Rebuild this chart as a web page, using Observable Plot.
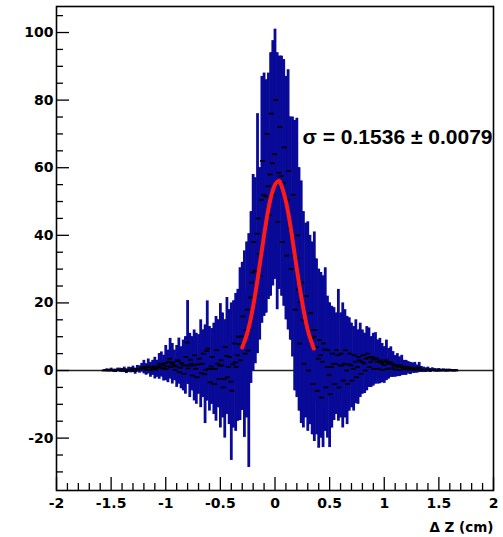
<!DOCTYPE html>
<html><head><meta charset="utf-8">
<script src="https://cdn.jsdelivr.net/npm/d3@7"></script>
<script src="https://cdn.jsdelivr.net/npm/@observablehq/plot@0.6"></script>
<style>html,body{margin:0;padding:0;background:#fff}svg{display:block}</style>
</head><body><div id="chart"></div>
<script>
// ---- histogram data, main entries (bin width 0.02, first centre -1.56) ----
const xFirst = -1.56;
const binWidth = 0.02;
const values = [
  0, 0.1, 0, 0.2, 0, -0.1, 0.2, 0.1, 0, 0.3, -0.2, 0.2, 0.1, 0.4, -0.2, 0.5, 0.3, 0.8,
  1, 0.3, 1.2, 0.2, 0.8, 0.7, 0.5, 1.2, 1.8, 0.7, 2.2, 1.2, 3.5, 2, 1.5, 1.2, 2.8, 0.8, 1.5, 1.5,
  8.3, 1.5, 2, 1.5, 0.5, 1.8, 2, 2, -1.1, 5.8, 0.5, 1.2, 0.5, 0.5, 2, 1.4, 1.5, -2.5, 4.3, 1,
  -3.3, 1.8, 2.4, 4.5, 7.8, 10.1, 7.8, 12, 5.9, 21.6, 29, 29.5, 40.5, 34.5, 50.5, 52, 51.5, 54.5, 58, 61.3,
  64, 56, 58.5, 57.5, 55.5, 51, 50.5, 42, 39.5, 34, 33.3, 24, 20.2, 15, 14.8, 13, 12, 9.5, 10, 7,
  3.5, 4.5, 2.6, 6.2, 1, -1.4, 1, 1.9, 2, 4.5, 1.5, 1.5, 2, 0, 1.8, 1.5, 0.5, 2.6, 1, 3,
  2.5, 2.1, 3.5, 3.8, 2.5, 3.2, 3.6, 2.5, 2.8, 2.2, 1.6, 3, 2, 2.5, 1.8, 1.2, 1.6, 1.1, 1.5, 0.8,
  0.8, 0.8, 0.6, 0.7, 0.8, 0.4, 0.9, 0.3, 0.2, 0.1, 0.3, 0, 0.2, 0.1, 0, 0.1, 0, 0.1, 0, 0, 0.1, 0, 0, 0
];
const errors = [
  0.3, 0.4, 0.4, 0.5, 0.4, 0.5, 0.5, 0.6, 0.6, 0.7, 0.7, 0.8, 0.8, 0.9, 0.9, 1.0, 1.1, 1.3,
  2, 1.7, 2.2, 2.2, 2.2, 3.2, 2.5, 3.8, 3.7, 3.8, 5.2, 4.8, 6, 6, 4.5, 6.2, 6.8, 6.2, 7.5, 8.5,
  12.4, 9.5, 8, 10.5, 10.5, 8.8, 13, 10, 14.6, 14.8, 12.5, 11.2, 13.5, 15.5, 13, 18.4, 15.5, 17.5, 17.3, 17,
  23.3, 18.8, 20.4, 19.5, 22.6, 21.9, 27.6, 26, 34.6, 25.4, 29, 27.5, 35.5, 25.5, 36.5, 36, 34.5, 33.5, 36, 36.3,
  37, 38, 34.5, 35.5, 36.5, 36, 38.5, 33, 35.5, 40, 41.3, 36, 35.9, 32, 28.8, 31, 28, 28.5, 31, 26,
  26.5, 24.5, 25.4, 24.2, 21, 21.4, 18, 16.7, 15, 19.5, 15.5, 18.5, 16, 16, 13.8, 12.5, 12.5, 12.4, 11, 11,
  9.5, 8.9, 9.5, 8.8, 7.5, 7.8, 7.6, 6.5, 6.7, 5.8, 5.4, 6, 4.5, 4.5, 3.8, 3.2, 3.4, 2.9, 3, 2.2,
  2.2, 1.8, 1.8, 1.5, 1.6, 1.2, 1.5, 0.9, 0.8, 0.7, 0.7, 0.6, 0.6, 0.5, 0.5, 0.5, 0.4, 0.4, 0.4, 0.4, 0.3, 0.3, 0.3, 0.3
];

// ---- second set of entries, half a bin over (first centre -1.19) ----
const xFirst2 = -1.19;
const values2 = [
  0.6, 0.2, 1.0, 0.1, 1.2, 0.3, 1.1, 2.0, 0.6, 1.5,
  0.4, 2.6, 1.0, 2.4, 0.2, 3.0, -0.5, 2.2, -1.0, 4.0,
  0.6, 3.2, -1.5, 4.5, -2.0, 3.5, -0.8, 5.0, 0.2, 6.5,
  -3.5, 4.0, -4.0, 6.0, -2.5, 3.0, -5.0, 7.0, -2.0, 4.0,
  -6.0, 8.0, 1.0, 10.0, 3.0, 16.0, 5.0, 18.0, 12.0, 26.0,
  38.0, 22.0, 45.0, 28.0, 62.0, 40.0, 70.0, 46.0, 76.0, 52.0,
  80.0, 44.0, 72.0, 38.0, 66.0, 34.0, 59.0, 30.0, 52.0, 18.0,
  40.0, 8.0, 26.0, 2.0, 22.0, 0.0, 17.0, -4.0, 12.0, -6.0,
  9.0, -8.0, 8.0, -5.0, 6.0, -7.0, 5.0, -4.0, 6.0, -5.0,
  5.0, -3.0, 6.0, -4.0, 5.0, -3.0, 4.5, -2.0, 4.0, -1.0,
  4.5, 0.0, 5.0, 1.0, 4.0, 0.5, 3.5, 0.5, 3.0, 0.2,
  2.5, 0.5, 2.5, 0.6, 1.8, 0.3, 1.4, 0.2, 1.2, 0.4,
  1.0, 0.3, 0.9, 0.2, 0.6, 0.3
];
const errors2 = [
  1.4, 1.2, 1.4, 1.5, 1.8, 2.3, 1.9, 3.0, 2.5, 3.0,
  3.4, 3.4, 3.5, 3.6, 3.2, 4.4, 3.5, 4.8, 5.0, 6.0,
  4.7, 6.8, 4.5, 6.5, 5.0, 7.0, 7.2, 7.0, 9.2, 6.5,
  6.5, 8.4, 9.0, 9.0, 8.5, 14.0, 9.0, 8.0, 11.0, 14.0,
  11.0, 12.6, 16.0, 14.0, 14.8, 16.0, 19.0, 20.0, 15.8, 21.0,
  19.0, 17.0, 15.0, 14.0, 24.0, 23.0, 16.0, 24.0, 18.0, 25.0,
  14.0, 20.0, 21.0, 16.0, 21.0, 19.0, 16.0, 21.0, 22.0, 24.0,
  20.0, 20.0, 21.0, 16.0, 21.0, 16.0, 21.0, 15.0, 21.0, 13.0,
  20.0, 12.0, 20.0, 13.0, 14.0, 10.0, 13.0, 9.0, 11.0, 9.0,
  12.0, 11.0, 10.0, 8.0, 9.0, 8.0, 8.5, 7.8, 8.0, 6.0,
  6.5, 6.0, 7.0, 6.0, 6.0, 4.5, 5.5, 4.4, 5.0, 3.8,
  4.5, 3.0, 4.0, 2.6, 2.6, 2.1, 2.6, 1.7, 1.8, 1.8,
  1.6, 1.3, 1.3, 1.0, 1.0, 0.9
];

// ---- gaussian fit curve ----
const fitX = [-0.30, -0.25, -0.20, -0.15, -0.10, -0.05, 0.0, 0.03, 0.05, 0.10, 0.15, 0.20, 0.25, 0.30, 0.355];
const fitY = [6.8, 11.5, 19, 29, 40, 49.5, 55, 56, 55.5, 50, 41, 30, 20, 12, 6.5];
const fitLabel = "\u03c3 = 0.1536 \u00b1 0.0079";

// ---- axes ----
const xTitle = "\u0394 Z (cm)";
const xMajor = [-2, -1.5, -1, -0.5, 0, 0.5, 1, 1.5, 2];
const xMinor = [-1.9, -1.8, -1.7, -1.6, -1.4, -1.3, -1.2, -1.1, -0.9, -0.8, -0.7, -0.6, -0.4, -0.3, -0.2, -0.1,
                0.1, 0.2, 0.3, 0.4, 0.6, 0.7, 0.8, 0.9, 1.1, 1.2, 1.3, 1.4, 1.6, 1.7, 1.8, 1.9];
const yMajor = [-20, 0, 20, 40, 60, 80, 100];
const yMinor = [-30, -25, -15, -10, -5, 5, 10, 15, 25, 30, 35, 45, 50, 55, 65, 70, 75, 85, 90, 95, 105];
const xDomain = [-2, 2];
const yDomain = [-35.5, 107.7];

const W = 503, H = 537;
const M = {top: 6, right: 10, bottom: 47, left: 56};
const pxPerX = (W - M.left - M.right) / (xDomain[1] - xDomain[0]);
const pxPerY = (H - M.top - M.bottom) / (yDomain[1] - yDomain[0]);

const rows = values.map((v, i) => ({x: xFirst + i * binWidth, v, e: errors[i]}))
  .concat(values2.map((v, i) => ({x: xFirst2 + i * binWidth, v, e: errors2[i]})));
const fit = fitX.map((x, i) => ({x, y: fitY[i]}));
const halfDash = 0.022;

const BLUE = "#0a0a98";
const FONT = "DejaVu Sans";

const tickLenX = (px) => px / pxPerY; // vertical tick length in y units
const tickLenY = (px) => px / pxPerX; // horizontal tick length in x units

const chart = Plot.plot({
  width: W, height: H,
  marginTop: M.top, marginRight: M.right, marginBottom: M.bottom, marginLeft: M.left,
  x: {domain: xDomain},
  y: {domain: yDomain},
  style: {background: "#fff"},
  marks: [
    Plot.ruleY([0], {stroke: "#222", strokeWidth: 1.5}),
    Plot.ruleX(rows, {x: "x", y1: d => d.v - d.e, y2: d => d.v + d.e, stroke: BLUE, strokeWidth: 2.8}),
    Plot.ruleY(rows, {y: "v", x1: d => d.x - halfDash, x2: d => d.x + halfDash, stroke: "#000", strokeWidth: 1.8}),
    Plot.line(fit, {x: "x", y: "y", stroke: "#ff1a1a", strokeWidth: 4, curve: "natural"}),
    Plot.frame({stroke: "#000", strokeWidth: 1.6}),
    // inward ticks
    Plot.ruleX(xMajor, {x: d => d, y1: yDomain[0], y2: yDomain[0] + tickLenX(13), stroke: "#000", strokeWidth: 1.3}),
    Plot.ruleX(xMinor, {x: d => d, y1: yDomain[0], y2: yDomain[0] + tickLenX(7), stroke: "#000", strokeWidth: 1.3}),
    Plot.ruleY(yMajor, {y: d => d, x1: xDomain[0], x2: xDomain[0] + tickLenY(13), stroke: "#000", strokeWidth: 1.3}),
    Plot.ruleY(yMinor, {y: d => d, x1: xDomain[0], x2: xDomain[0] + tickLenY(7), stroke: "#000", strokeWidth: 1.3}),
    // tick labels
    Plot.axisX({ticks: xMajor, tickSize: 0, tickPadding: 8, tickFormat: d => String(d), label: null,
                fontFamily: FONT, fontWeight: "bold", fontSize: 14, fill: "#000"}),
    Plot.axisY({ticks: yMajor, tickSize: 0, tickPadding: 3, tickFormat: d => String(d), label: null,
                fontFamily: FONT, fontWeight: "bold", fontSize: 14, fill: "#000"}),
    Plot.text([xTitle], {text: d => d, frameAnchor: "bottom-right", dy: 37, textAnchor: "end", lineAnchor: "middle",
                fontFamily: FONT, fontWeight: "bold", fontSize: 13.5, fill: "#000"}),
    Plot.text([fitLabel], {text: d => d, frameAnchor: "top-right", dx: -1, dy: 131, textAnchor: "end", lineAnchor: "middle",
                fontFamily: "Liberation Sans", fontWeight: "bold", fontSize: 21, fill: "#000"})
  ]
});
document.getElementById("chart").appendChild(chart);
</script>
</body></html>
